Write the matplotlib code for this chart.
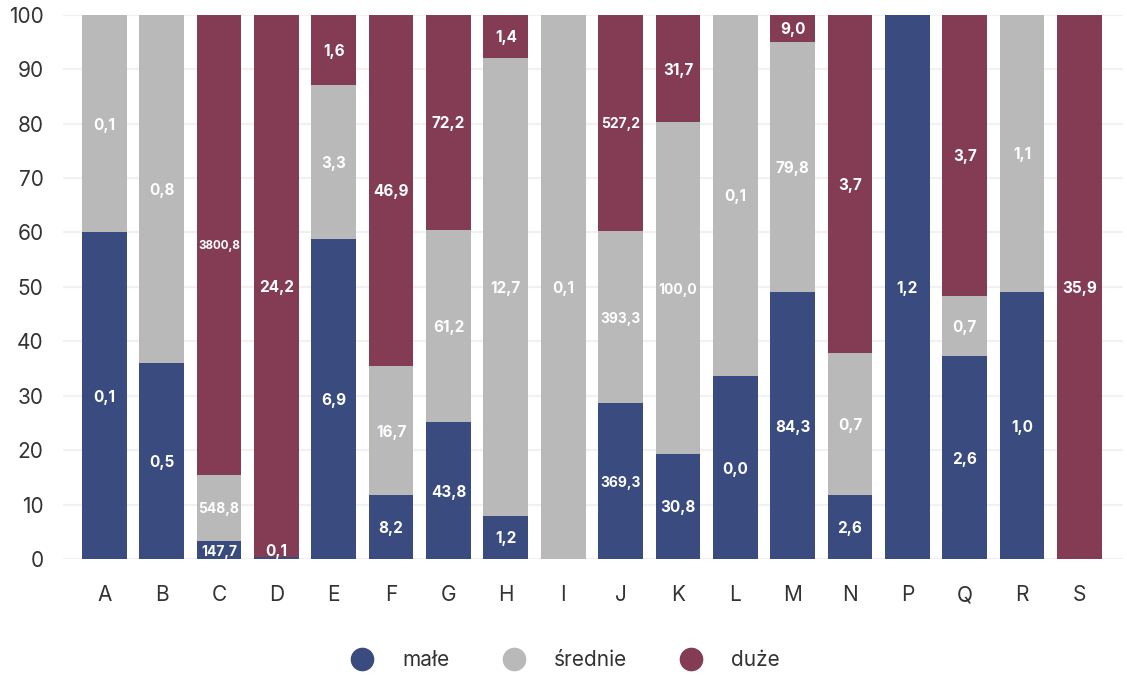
import numpy as np
import matplotlib
matplotlib.use("Agg")
import matplotlib.pyplot as plt
from matplotlib.lines import Line2D

plt.rcParams['font.family'] = ['Inter', 'DejaVu Sans']

categories = ["A", "B", "C", "D", "E", "F", "G", "H", "I", "J",
              "K", "L", "M", "N", "P", "Q", "R", "S"]
series_names = ["małe", "średnie", "duże"]
colors = ["#3a4b80", "#b8b9b8", "#843c55"]

# share of each size class in the category (percent)
share_male = [60.0, 36.0, 3.3, 0.4, 58.7, 11.7, 25.1, 7.9, 0.0, 28.6,
              19.3, 33.6, 49.0, 11.7, 100.0, 37.2, 49.0, 0.0]
share_srednie = [40.0, 64.0, 12.2, 0.0, 28.3, 23.7, 35.3, 84.2, 100.0, 31.6,
                 60.9, 66.4, 46.0, 26.1, 0.0, 11.2, 51.0, 0.0]
share_duze = [0.0, 0.0, 84.5, 99.6, 13.0, 64.6, 39.6, 7.9, 0.0, 39.8,
              19.8, 0.0, 5.0, 62.2, 0.0, 51.6, 0.0, 100.0]

# absolute values printed inside the segments (nan = no segment)
nan = np.nan
value_male = [0.1, 0.5, 147.7, 0.1, 6.9, 8.2, 43.8, 1.2, nan, 369.3,
              30.8, 0.0, 84.3, 2.6, 1.2, 2.6, 1.0, nan]
value_srednie = [0.1, 0.8, 548.8, nan, 3.3, 16.7, 61.2, 12.7, 0.1, 393.3,
                 100.0, 0.1, 79.8, 0.7, nan, 0.7, 1.1, nan]
value_duze = [nan, nan, 3800.8, 24.2, 1.6, 46.9, 72.2, 1.4, nan, 527.2,
              31.7, nan, 9.0, 3.7, nan, 3.7, nan, 35.9]

y_ticks = list(range(0, 101, 10))

shares = [np.array(share_male), np.array(share_srednie), np.array(share_duze)]
values = [value_male, value_srednie, value_duze]

fig = plt.figure(figsize=(11.27, 6.76), dpi=100)
ax = fig.add_axes([0.0559, 0.1731, 0.9406, 0.8052])

x = np.arange(len(categories))
bar_w = 0.78
bottom = np.zeros(len(categories))
for name, col, sh, vals in zip(series_names, colors, shares, values):
    ax.bar(x, sh, width=bar_w, bottom=bottom, color=col, zorder=2,
           linewidth=0)
    for i, v in enumerate(vals):
        if np.isnan(v):
            continue
        yc = max(bottom[i] + sh[i] / 2, 1.6)
        txt = f"{v:.1f}".replace(".", ",")
        # longer numbers get a smaller font so they stay inside the bar
        size = min(11.0, 50.0 / len(txt))
        ax.text(x[i], yc, txt, ha="center", va="center_baseline",
                color="white", fontsize=size, fontweight="bold", zorder=3)
    bottom = bottom + sh

ax.set_xlim(-0.72, 17.76)
ax.set_ylim(0, 100)
ax.set_xticks(x)
ax.set_xticklabels(categories)
ax.set_yticks(y_ticks)
ax.grid(axis="y", color="#f1f1f1", linewidth=1.6, zorder=0)
ax.set_axisbelow(True)
for s in ax.spines.values():
    s.set_visible(False)
ax.tick_params(axis="both", length=0, labelsize=15, colors="#333333")
ax.tick_params(axis="y", pad=14)
ax.tick_params(axis="x", pad=19)

handles = [Line2D([0], [0], marker="o", linestyle="none", markersize=16,
                  markerfacecolor=c, markeredgecolor=c) for c in colors]
fig.legend(handles, series_names, loc="center", bbox_to_anchor=(0.502, 0.0237),
           ncol=3, frameon=False, fontsize=15, handlelength=1.0,
           handletextpad=1.4, columnspacing=2.6, labelcolor="#333333")

fig.savefig("out.png", dpi=100)
